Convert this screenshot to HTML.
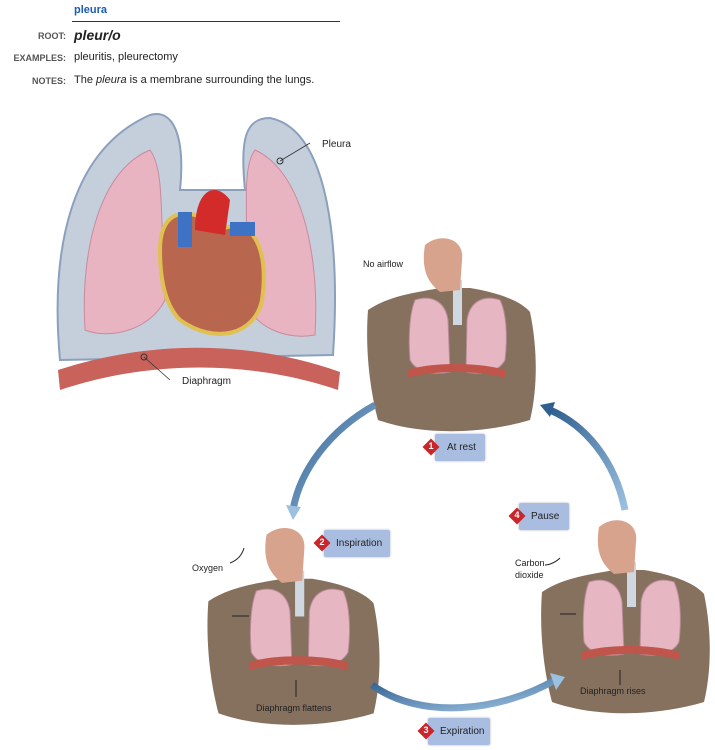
<!DOCTYPE html>
<html><head><style>
body{margin:0;width:715px;height:750px;background:#fff;overflow:hidden;font-family:"Liberation Sans",sans-serif;}
.t{position:absolute;font-size:11px;color:#222;}
.lab{position:absolute;font-size:9px;font-weight:bold;color:#555;text-align:right;width:66px;left:0;}
.box{position:absolute;background:#a9bde0;border-radius:2px;font-size:10px;color:#222;line-height:27px;padding-left:12px;box-shadow:0 0 2px #aab;}
.dm{position:absolute;width:12px;height:12px;background:#c8262a;transform:rotate(45deg);}
.dn{position:absolute;color:#fff;font-size:9px;font-weight:bold;width:14px;text-align:center;}
</style></head><body>
<div class="t" style="left:74px;top:4px;color:#1a5db5;font-weight:bold;font-size:11px">pleura</div>
<div style="position:absolute;left:72px;top:21px;width:268px;height:1px;background:#333"></div>
<div class="lab" style="top:31px">ROOT:</div>
<div class="t" style="left:74px;top:27px;font-size:14px;font-weight:bold;font-style:italic">pleur/o</div>
<div class="lab" style="top:53px">EXAMPLES:</div>
<div class="t" style="left:74px;top:51px">pleuritis, pleurectomy</div>
<div class="lab" style="top:76px">NOTES:</div>
<div class="t" style="left:74px;top:74px">The <i>pleura</i> is a membrane surrounding the lungs.</div>

<svg width="715" height="750" style="position:absolute;left:0;top:0">
<defs>
<linearGradient id="ar" x1="0" y1="0" x2="1" y2="1"><stop offset="0" stop-color="#2f5f8f"/><stop offset="1" stop-color="#9cc0e0"/></linearGradient>
</defs>
<!-- big lung illustration -->
<path d="M60,360 C50,250 70,150 150,115 C175,108 185,140 180,190 L245,190 C240,140 245,118 270,118 C330,130 340,250 333,355 Z" fill="#c5cfdc" stroke="#8aa0bc" stroke-width="2"/>
<path d="M85,330 C80,250 100,170 150,150 C165,170 160,220 165,300 C150,330 110,340 85,330Z" fill="#e9b4c2" stroke="#c98a9c"/>
<path d="M315,335 C320,250 300,170 255,150 C240,170 250,220 245,300 C255,330 290,340 315,335Z" fill="#e9b4c2" stroke="#c98a9c"/>
<path d="M160,250 C160,200 200,210 220,230 C250,215 270,245 262,300 C255,335 215,345 180,320 C165,305 160,280 160,250Z" fill="#b9664f" stroke="#e0c050" stroke-width="4"/>
<path d="M195,230 C195,190 215,180 230,200 L225,235Z" fill="#d32a2a"/>
<rect x="178" y="212" width="14" height="35" fill="#3d72c4"/>
<rect x="230" y="222" width="25" height="14" fill="#3d72c4"/>
<path d="M58,370 C150,340 250,340 340,372 L338,390 C250,360 150,360 60,390Z" fill="#c8625a"/>
<line x1="280" y1="161" x2="310" y2="143" stroke="#333" stroke-width="0.8"/><circle cx="280" cy="161" r="3" fill="none" stroke="#333"/>
<line x1="144" y1="357" x2="170" y2="380" stroke="#333" stroke-width="0.8"/><circle cx="144" cy="357" r="3" fill="none" stroke="#333"/>
<text x="322" y="147" font-size="10" fill="#222">Pleura</text>
<text x="182" y="384" font-size="10" fill="#222">Diaphragm</text>

<!-- torso template -->
<g id="tor">
<path d="M368,310 C390,295 420,292 440,288 L470,288 C495,292 520,300 530,312 C540,360 535,400 530,420 C480,435 420,435 378,420 C370,390 365,350 368,310Z" fill="#86705e"/>
<path d="M415,300 C430,295 445,300 448,320 L450,372 C430,376 415,370 410,360 C408,335 410,312 415,300Z" fill="#e7b6c3" stroke="#b98c9a"/>
<path d="M500,300 C485,295 470,300 467,320 L466,372 C485,376 500,370 505,360 C508,335 506,312 500,300Z" fill="#e7b6c3" stroke="#b98c9a"/>
<rect x="453" y="280" width="9" height="45" fill="#cfd8e0"/>
<path d="M408,370 C430,362 480,362 505,370 L505,378 C480,370 430,370 408,378Z" fill="#c0554b"/>
<path d="M425,245 C440,232 465,238 462,260 L460,290 L440,292 C432,285 420,275 425,245Z" fill="#d8a38c"/>
</g>
<use href="#tor" transform="translate(-167,285) scale(1.02)"/>
<use href="#tor" transform="translate(174,282)"/>
<text x="363" y="267" font-size="9" fill="#222">No airflow</text>

<!-- arrows -->
<path d="M375,405 C330,430 300,470 293,510" fill="none" stroke="url(#ar)" stroke-width="7"/>
<path d="M286,505 L293,520 L301,507Z" fill="#9cc0e0"/>
<path d="M372,685 C420,720 500,712 555,680" fill="none" stroke="url(#ar)" stroke-width="7"/>
<path d="M550,673 L565,677 L556,690Z" fill="#9cc0e0"/>
<path d="M625,510 C615,460 585,425 550,410" fill="none" stroke="url(#ar)" stroke-width="7"/>
<path d="M555,402 L540,405 L550,417Z" fill="#2f5f8f"/>
<text x="192" y="571" font-size="9" fill="#222">Oxygen</text>
<text x="515" y="566" font-size="9" fill="#222">Carbon</text>
<text x="515" y="578" font-size="9" fill="#222">dioxide</text>
<text x="256" y="711" font-size="9" fill="#222">Diaphragm flattens</text>
<text x="580" y="694" font-size="9" fill="#222">Diaphragm rises</text>
<path d="M230,563 C238,560 242,555 244,548" fill="none" stroke="#222"/>
<path d="M560,558 C555,563 548,565 545,565" fill="none" stroke="#222"/>
<line x1="249" y1="616" x2="232" y2="616" stroke="#222"/><line x1="296" y1="680" x2="296" y2="697" stroke="#222"/>
<line x1="560" y1="614" x2="576" y2="614" stroke="#222"/><line x1="620" y1="685" x2="620" y2="670" stroke="#222"/>
</svg>

<div class="box" style="left:435px;top:434px;width:38px">At rest</div>
<div class="dm" style="left:425px;top:441px"></div><div class="dn" style="left:424px;top:441px">1</div>
<div class="box" style="left:324px;top:530px;width:54px">Inspiration</div>
<div class="dm" style="left:316px;top:537px"></div><div class="dn" style="left:315px;top:537px">2</div>
<div class="box" style="left:428px;top:718px;width:50px">Expiration</div>
<div class="dm" style="left:420px;top:725px"></div><div class="dn" style="left:419px;top:725px">3</div>
<div class="box" style="left:519px;top:503px;width:38px">Pause</div>
<div class="dm" style="left:511px;top:510px"></div><div class="dn" style="left:510px;top:510px">4</div>
</body></html>
